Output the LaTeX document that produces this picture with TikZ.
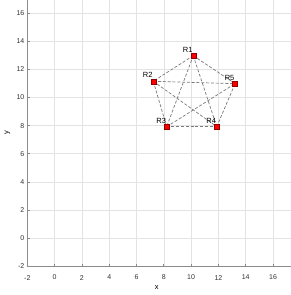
\documentclass[tikz,border=0pt]{standalone}
\usepackage{fontspec}
\setmainfont{Liberation Sans}
\begin{document}
\begin{tikzpicture}[x=1pt,y=1pt,
  gridline/.style={draw=black!11,line width=0.5pt},
  axisline/.style={draw=black!45,line width=0.7pt},
  ticklab/.style={font=\fontsize{7}{8}\selectfont,text=black!80,inner sep=0pt},
  edge/.style={draw=black!52,dashed,dash pattern=on 3pt off 1.8pt,line width=0.7pt},
  marker/.style={rectangle,fill=red,draw=red!55!black,line width=0.3pt,minimum size=5pt,inner sep=0pt},
  rlab/.style={font=\fontsize{7.5}{8}\selectfont,inner sep=0pt}]
\useasboundingbox (0,0) rectangle (291,295);
\fill[white] (0,0) rectangle (291,295);
\begin{scope}[shift={(54.6,56.84)},x=13.65pt,y=14.07pt]
  % grid
  \foreach \v in {0,2,...,16} {
    \draw[gridline] (\v,-2) -- (\v,16.92);
    \draw[gridline] (-2,\v) -- (17.32,\v);
  }
  % axes
  \draw[axisline] (-2,16.92) -- (-2,-2) -- (17.32,-2);
  \foreach \v in {-2,0,...,16} {
    \draw[axisline] (\v,-2) -- ++(0,2.5pt);
    \draw[axisline] (-2,\v) -- ++(2.5pt,0);
    \node[ticklab,anchor=center] (xt\v) at (\v,-2.8) {\v};
    \node[ticklab,anchor=east] (yt\v) at (-2.2,\v) {\v};
  }
  % points
  \coordinate (P1) at (10.16,12.97);
  \coordinate (P2) at (7.23,11.15);
  \coordinate (P5) at (13.22,10.98);
  \coordinate (P3) at (8.21,7.92);
  \coordinate (P4) at (11.88,7.92);
  % edges
  \foreach \a/\b in {1/2,1/3,1/4,1/5,2/3,2/4,2/5,3/4,3/5,4/5}
    \draw[edge] (P\a) -- (P\b);
  % markers
  \foreach \i in {1,...,5}
    \node[marker] (R\i) at (P\i) {};
  % labels
  \foreach \i in {1,...,5}
    \node[rlab] (L\i) at ([shift={(-5.5pt,6pt)}]P\i) {R\i};
\end{scope}
\node[font=\fontsize{7.5}{8}\selectfont,inner sep=0pt] (xlab) at (156.7,7.7) {x};
\node[font=\fontsize{7.5}{8}\selectfont,inner sep=0pt,rotate=90] (ylab) at (7.3,162.3) {y};
\end{tikzpicture}
\end{document}
